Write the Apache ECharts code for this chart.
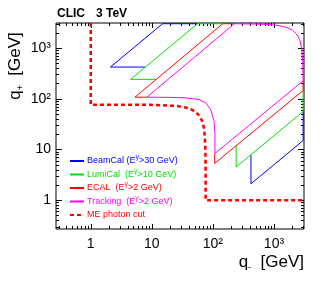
<!DOCTYPE html>
<html><head><meta charset="utf-8">
<script src="https://cdn.jsdelivr.net/npm/echarts@6/dist/echarts.min.js"></script>
<style>html,body{margin:0;padding:0;background:#fff}#c{width:332px;height:281px}</style>
</head><body><div id="c"></div>
<script>
// ---- axis ticks / labels ----
const tickValues = [1, 10, 100, 1000];
const tickLabels = ['1', '10', '10\u00b2', '10\u00b3'];
const minorTickValues = [0.3,0.4,0.5,0.6,0.7,0.8,0.9, 2,3,4,5,6,7,8,9, 20,30,40,50,60,70,80,90,
  200,300,400,500,600,700,800,900, 2000,3000];

// ---- series data: [q-, q+] in GeV ----
const beamCalUpper = [[7.8,420],[2.1,420],[15,3000],[56,3000]];
const beamCalLower = [[420,7.8],[420,2.1],[3000,15],[3000,56]];
const lumiCalUpper = [[11.8,240],[4.5,240],[56,3000],[145,3000]];
const lumiCalLower = [[240,11.8],[240,4.5],[3000,56],[3000,145]];
const ecalUpper = [[8.3,107],[5.3,107],[145,3000],[225,3000]];
const ecalLower = [[107,8.3],[107,5.3],[3000,145],[3000,225]];
const tracking = [[8.3,107],[225,3000],[600,2940],[940,2850],[1240,2730],[1600,2540],[2000,2240],
  [2300,1930],[2500,1660],[2700,1310],[2850,940],[2950,550],[3000,225],[108,8.3],[108,21],[104,37],
  [92,61],[76,83],[59,96],[36,104],[20,106],[8.3,107]];
const meCut = [[1,3100],[1,76],[10,75.5],[25,72],[36,67],[46,60],[54,53],[60,46],[67,36],[72,25],
  [75,12],[76,5],[76,1],[3100,1]];

const legendNames = ['BeamCal','LumiCal','ECAL','Tracking','ME photon cut'];
const legendTexts = ['BeamCal (E{g|\u03b3}>30 GeV)','LumiCal  (E{g|\u03b3}>10 GeV)','ECAL  (E{g|\u03b3}>2 GeV)',
  'Tracking  (E{g|\u03b3}>2 GeV)','ME photon cut'];
const colors = ['#0000ff','#00e000','#ff0000','#ff00ff','#ff0000'];

const FONT = 'Liberation Sans';
const chart = echarts.init(document.getElementById('c'), null, {renderer:'canvas'});

function lab(v){
  const k = tickValues.findIndex(t => Math.abs(v/t - 1) < 1e-6);
  return k < 0 ? '' : tickLabels[k];
}
function axis(margin){
  return {
    type:'log', logBase:10, min:0.27, max:3100,
    splitLine:{show:false}, axisTick:{show:false}, axisLine:{show:false}, minorTick:{show:false},
    axisLabel:{formatter:lab, margin:margin, fontSize:14, color:'#000', fontFamily:FONT,
      showMinLabel:false, showMaxLabel:false}
  };
}
function ser(name, data, color, dashed){
  return {type:'line', name:name, data:data, symbol:'none', showSymbol:false, animation:false,
    silent:true, clip:true,
    lineStyle:{color:color, width: dashed ? 2.5 : 1, type: dashed ? [4,3] : 'solid'},
    itemStyle:{color:color}};
}

chart.setOption({
  animation:false,
  grid:{left:56, right:28, top:23, bottom:52, show:true, borderColor:'#000', borderWidth:1},
  xAxis: axis(8),
  yAxis: axis(5),
  legend:{
    orient:'vertical', left:69, top:154, itemWidth:14, itemHeight:9, itemGap:-0.5, padding:0,
    selectedMode:false,
    itemStyle:{opacity:0},
    formatter: n => legendTexts[legendNames.indexOf(n)],
    textStyle:{fontFamily:FONT, fontSize:9, lineHeight:14, padding:[0,0,0,-2],
      rich:{g:{fontFamily:FONT, fontSize:7, lineHeight:7, verticalAlign:'top'}}},
    data: legendNames.map((n,i)=>({name:n, textStyle:{color:colors[i]}}))
  },
  series:[
    ser('BeamCal', beamCalUpper, colors[0]),
    ser('BeamCal', beamCalLower, colors[0]),
    ser('LumiCal', lumiCalUpper, colors[1]),
    ser('LumiCal', lumiCalLower, colors[1]),
    ser('ECAL', ecalUpper, colors[2]),
    ser('ECAL', ecalLower, colors[2]),
    ser('Tracking', tracking, colors[3]),
    ser('ME photon cut', meCut, colors[4], true)
  ]
});

// ticks on all four sides, placed through the axis scales
const px = v => chart.convertToPixel({xAxisIndex:0}, v);
const py = v => chart.convertToPixel({yAxisIndex:0}, v);
const L = px(0.27), R = px(3100), T = py(3100), B = py(0.27);
const g = [];
function ln(x1,y1,x2,y2){ g.push({type:'line', silent:true, shape:{x1,y1,x2,y2}, style:{stroke:'#000', lineWidth:1}}); }
function ticks(vals, xl, yl){
  vals.forEach(v=>{
    const x = Math.round(px(v)) + 0.5, y = Math.round(py(v)) + 0.5;
    if (x > L && x < R){ ln(x, B, x, B - xl); ln(x, T, x, T + xl); }
    if (y > T && y < B){ ln(L, y, L + yl, y); ln(R, y, R - yl, y); }
  });
}
ticks(tickValues, 5, 6);
ticks(minorTickValues, 3, 3);

const titleRich = {
  s:{fontFamily:FONT, fontSize:9, lineHeight:9, verticalAlign:'bottom', fill:'#000'}
};
g.push({type:'text', left:57, top:8, silent:true,
  style:{text:'CLIC', font:'bold 12px "Liberation Sans"', fill:'#000'}});
g.push({type:'text', left:96, top:8, silent:true,
  style:{text:'3 TeV', font:'bold 12px "Liberation Sans"', fill:'#000'}});
g.push({type:'text', x:304, y:262, silent:true,
  style:{text:'q{s|-}  [GeV]', font:'17px "Liberation Sans"', fill:'#000', align:'right', verticalAlign:'middle',
    lineHeight:20, rich:titleRich}});
g.push({type:'text', x:15, y:66, rotation:Math.PI/2, silent:true,
  style:{text:'q{s|+}  [GeV]', font:'17px "Liberation Sans"', fill:'#000', align:'center', verticalAlign:'middle',
    lineHeight:20, rich:titleRich}});
chart.setOption({graphic:g});
</script></body></html>
